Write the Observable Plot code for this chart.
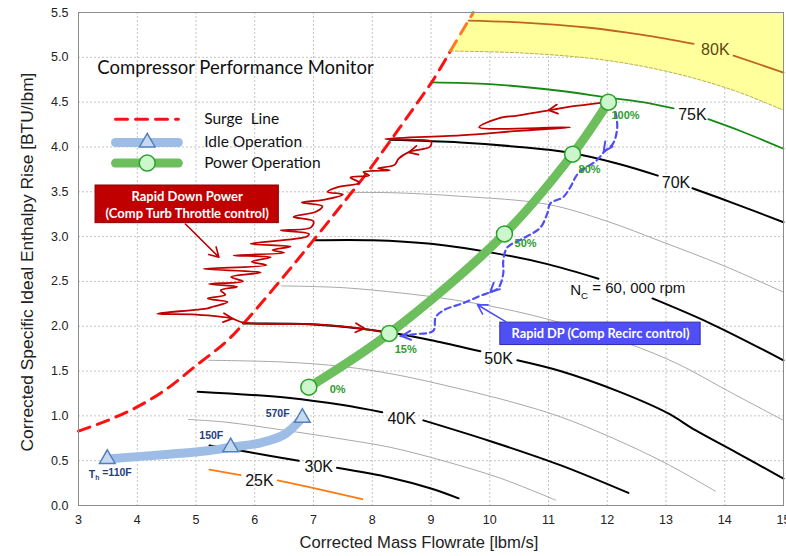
<!DOCTYPE html>
<html><head><meta charset="utf-8">
<script src="https://cdn.jsdelivr.net/npm/d3@7"></script>
<script src="https://cdn.jsdelivr.net/npm/@observablehq/plot@0.6"></script>
<style>body{margin:0;background:#fff;}#chart{width:786px;height:556px;}</style>
</head><body><div id="chart"></div>
<script>
// ---------- data ----------
const xTicks = [3,4,5,6,7,8,9,10,11,12,13,14,15];
const yTicks = [0,0.5,1,1.5,2,2.5,3,3.5,4,4.5,5,5.5];
const GAP = NaN; // break in a speed line where its label sits

const speed80K = [[9.64,5.41],[10.5,5.39],[11.7,5.33],[12.6,5.25],[13.47,5.15],[13.8,GAP],[14.15,5.02],[15,4.83]];
const speed75K = [[9.02,4.72],[10,4.70],[11.15,4.63],[12.02,4.55],[12.6,4.5],[13.13,4.43],[13.4,GAP],[13.72,4.31],[14.3,4.17],[15,3.98]];
const speed70K = [[8.3,4.08],[9.5,4.05],[10.5,4.0],[11.32,3.94],[12.2,3.81],[12.86,3.68],[13.2,GAP],[13.45,3.54],[14.2,3.36],[15,3.16]];
const speed65K = [[7.58,3.49],[8.3,3.49],[9.5,3.45],[10.98,3.36],[12,3.17],[12.9,2.95],[14,2.67],[15,2.38]];
const speed60K = [[7.02,2.96],[8,2.96],[9,2.92],[10.13,2.81],[11,2.69],[11.85,2.53],[12.3,GAP],[12.77,2.31],[13.76,2.03],[15,1.62]];
const speed55K = [[6.45,2.45],[7.5,2.43],[8.5,2.37],[9.33,2.3],[10.2,2.2],[11.09,2.06],[12.34,1.81],[13.2,1.58],[14.05,1.28],[15,0.95]];
const speed50K = [[5.8,2.03],[7,2.02],[8.3,1.93],[9.1,1.83],[9.84,1.72],[10.15,GAP],[10.47,1.62],[11.2,1.5],[12.2,1.27],[13.03,1.03],[13.5,0.84],[14.2,0.59],[15,0.3]];
const speed45K = [[5.22,1.62],[6.5,1.6],[7.5,1.55],[8.4,1.46],[9.5,1.3],[10.4,1.15],[11.2,0.99],[12.1,0.75],[13,0.47],[13.84,0.16]];
const speed40K = [[5.03,1.27],[6.6,1.2],[7.5,1.12],[8.17,1.04],[8.5,GAP],[8.87,0.95],[10,0.72],[11.2,0.45],[12.36,0.14]];
const speed35K = [[4.87,0.96],[5.5,0.93],[6.5,0.84],[7.5,0.74],[8.3,0.65],[9.2,0.5],[10.2,0.3],[11.12,0.06]];
const speed30K = [[5.23,0.67],[5.6,0.63],[6.2,0.56],[6.75,0.5],[7.05,GAP],[7.4,0.42],[8.31,0.31],[9.0,0.19],[9.47,0.08]];
const speed25K = [[5.23,0.4],[5.76,0.34],[6.05,GAP],[6.39,0.28],[7.1,0.18],[7.83,0.07]];

const surgeLine = [[3,0.83],[3.5,0.95],[4,1.1],[4.5,1.3],[5,1.56],[5.5,1.82],[5.81,2.03],[6.5,2.56],[7,2.96],[7.5,3.37],[7.92,3.72],[8.31,4.07],[8.7,4.43],[9.03,4.74],[9.33,5.07]];
const surgeLineHigh = [[9.33,5.07],[9.72,5.5]];
const overspeedEdge = [[9.33,5.07],[10.5,5.05],[11.7,4.99],[12.6,4.9],[13.4,4.78],[14.2,4.62],[15,4.41]];
const overspeedTop = [[9.72,5.5],[15,5.5]];

const idleOp = [[3.49,0.52],[4.5,0.57],[5.2,0.61],[5.59,0.65],[6.1,0.7],[6.5,0.79],[6.81,0.98]];
const idlePoints = [[3.49,0.52],[5.59,0.65],[6.81,0.98]];
const idleLabels = [["T_h =110F",3.54,0.35],["150F",5.26,0.78],["570F",6.39,1.03]];

const powerOp = [[6.92,1.32],[8.29,1.92],[10.25,3.03],[11.41,3.92],[12.02,4.5]];
const powerLabels = [["0%",7.41,1.29],["15%",8.57,1.74],["50%",10.61,2.92],["80%",11.7,3.75],["100%",12.31,4.35]];

const rapidDownPower = [[12.02,4.5],[11.5,4.46],[11.1,4.42],[10.47,4.35],[10.15,4.32],[9.82,4.22],[11.37,4.22],[10.5,4.18],[9.5,4.13],[8.22,4.09],[8.7,4.08],[9.0,4.06],[8.98,4.0],[8.65,3.95],[8.45,3.87],[8.38,3.8],[8.1,3.76],[8.3,3.74],[7.85,3.72],[7.95,3.68],[7.63,3.66],[7.78,3.6],[7.4,3.55],[7.24,3.5],[7.5,3.47],[7.17,3.41],[6.8,3.38],[7.15,3.34],[7.05,3.28],[6.66,3.22],[7.0,3.17],[6.95,3.1],[6.44,3.07],[6.92,3.03],[6.89,3.0],[5.93,2.92],[6.61,2.89],[6.3,2.85],[6.5,2.82],[5.64,2.79],[6.27,2.77],[5.95,2.72],[6.2,2.68],[5.13,2.64],[6.1,2.6],[5.6,2.55],[5.8,2.5],[5.22,2.47],[5.7,2.44],[5.42,2.4],[5.5,2.35],[5.2,2.31],[5.54,2.27],[5.3,2.22],[5.2,2.2],[4.34,2.14],[5.0,2.13],[5.59,2.09],[5.81,2.04],[7.07,2.02],[7.85,1.97],[8.29,1.92]];
const rapidDownHeads = [[11.0,4.41,11.6,4.46],[8.62,3.94,8.95,3.99],[5.62,2.085,5.0,2.13],[7.87,1.975,7.2,2.01]];

const rapidDP = [[12.14,4.39],[12.17,4.22],[12.1,4.04],[11.94,3.94],[11.82,3.85],[11.5,3.7],[11.37,3.55],[11.25,3.44],[11.03,3.37],[10.98,3.26],[10.86,3.1],[10.57,2.98],[10.3,2.88],[10.23,2.73],[10.23,2.59],[10.15,2.43],[10.01,2.38],[9.84,2.34],[9.56,2.26],[9.22,2.18],[9.08,2.1],[9.04,1.95],[8.7,1.91],[8.48,1.89]];
const rapidDPHeads = [[11.94,3.95,12.1,4.1],[10.01,2.38,10.2,2.5],[8.5,1.89,8.85,1.91]];

const speedLabels = [["80K",13.84,5.08],["75K",13.45,4.36],["70K",13.17,3.6],["50K",10.15,1.64],["40K",8.5,0.97],["30K",7.09,0.435],["25K",6.08,0.27]];
const rpmLabel = [["N_C = 60, 000 rpm",11.37,2.4]];

const titleText = [["Compressor Performance Monitor",3.32,4.875]];
const legendItems = [["Surge\u00a0 Line",4.31],["Idle Operation",4.05],["Power Operation",3.82]];
const legendLineX = [3.63,4.70], legendMarkX = 4.17, legendTextX = 5.14;

const redBox = {x1:3.29,x2:6.41,y1:3.15,y2:3.57};
const redBoxText = [["Rapid Down Power",4.85,3.447],["(Comp Turb Throttle control)",4.85,3.257]];
const redArrow = [{x1:4.82,y1:3.14,x2:5.39,y2:2.77}];
const blueBox = {x1:10.18,x2:13.59,y1:1.79,y2:2.04};
const blueBoxText = [["Rapid DP (Comp Recirc control)",11.885,1.915]];
const blueArrow = [{x1:10.3,y1:2.04,x2:9.79,y2:2.24}];

const xTitle = "Corrected Mass Flowrate [lbm/s]";
const yTitle = "Corrected Specific Ideal Enthalpy Rise [BTU/lbm]";

// ---------- layout ----------
const W = 786, H = 556, mL = 78, mR = 3, mT = 12, mB = 51;
const xDom = [3,15], yDom = [0,5.5];
const kx = (W-mL-mR)/(xDom[1]-xDom[0]);
const ky = (H-mT-mB)/(yDom[1]-yDom[0]);
const P = a => a.map(([x,y]) => ({x,y}));
const heads = a => a.map(([x,y,fx,fy]) => ({x,y,r: Math.atan2((x-fx)*kx, (y-fy)*ky)*180/Math.PI}));
const vHead = {draw(ctx){ ctx.moveTo(-4.5,9); ctx.lineTo(0,0); ctx.lineTo(4.5,9); }};
const T = a => a.map(([t,x,y]) => ({t,x,y}));
const sans = "'Liberation Sans', Arial, sans-serif";
const cal = "Lato, 'Open Sans', sans-serif";

const yellowZone = P([...surgeLineHigh, ...overspeedTop.slice(1), [15,4.41], ...overspeedEdge.slice().reverse()]);

const line = (a, o) => Plot.line(P(a), {x:"x", y:"y", curve:"catmull-rom", ...o});
const legendRows = legendItems.map(([t,y]) => ({t,y}));
const legendSeg = (y) => legendLineX.map(x => ({x,y}));

const chart = Plot.plot({
  width: W, height: H, marginLeft: mL, marginRight: mR, marginTop: mT, marginBottom: mB,
  x: {domain: xDom}, y: {domain: yDom},
  style: {fontFamily: sans, fontSize: "12px", color: "#222", background: "#fff"},
  marks: [
    Plot.gridX(xTicks, {stroke:"#c4c4c4", strokeOpacity:1, strokeDasharray:"2,2"}),
    Plot.gridY(yTicks, {stroke:"#c4c4c4", strokeOpacity:1, strokeDasharray:"2,2"}),
    Plot.line(yellowZone, {x:"x", y:"y", fill:"#ffff9c", stroke:"none"}),
    line(overspeedEdge, {stroke:"#b8aa55", strokeWidth:1, strokeDasharray:"3,2"}),
    line(speed65K, {stroke:"#a8a8a8", strokeWidth:1}),
    line(speed55K, {stroke:"#a8a8a8", strokeWidth:1}),
    line(speed45K, {stroke:"#a8a8a8", strokeWidth:1}),
    line(speed35K, {stroke:"#a8a8a8", strokeWidth:1}),
    line(speed70K, {stroke:"#000", strokeWidth:2}),
    line(speed60K, {stroke:"#000", strokeWidth:2}),
    line(speed50K, {stroke:"#000", strokeWidth:2}),
    line(speed40K, {stroke:"#000", strokeWidth:2}),
    line(speed30K, {stroke:"#000", strokeWidth:2}),
    line(speed75K, {stroke:"#168a16", strokeWidth:1.8}),
    line(speed80K, {stroke:"#c0641e", strokeWidth:1.8}),
    line(speed25K, {stroke:"#ff7a10", strokeWidth:1.8}),
    line(surgeLine, {stroke:"#ff1010", strokeWidth:3, strokeDasharray:"12,8"}),
    line(surgeLineHigh, {stroke:"#ff7a20", strokeWidth:3, strokeDasharray:"12,8", curve:"linear"}),
    line(idleOp, {stroke:"#9dbde6", strokeWidth:9, strokeLinecap:"butt"}),
    line(powerOp, {stroke:"#6cbf5c", strokeWidth:9, strokeLinecap:"butt"}),
    line(rapidDownPower, {stroke:"#c00000", strokeWidth:1.8}),
    line(rapidDP, {stroke:"#4f4ff5", strokeWidth:2.2, strokeDasharray:"6,4"}),
    Plot.vector(heads(rapidDownHeads), {x:"x", y:"y", rotate:"r", shape:vHead, anchor:"start", stroke:"#c00000", strokeWidth:1.8}),
    Plot.vector(heads(rapidDPHeads), {x:"x", y:"y", rotate:"r", shape:vHead, anchor:"start", stroke:"#4f4ff5", strokeWidth:2}),
    Plot.dot(P(idlePoints), {x:"x", y:"y", symbol:"triangle", r:5.8, fill:"#c6d9f1", stroke:"#4f81bd", strokeWidth:1.5}),
    Plot.dot(P(powerOp), {x:"x", y:"y", r:8, fill:"#ccf7cc", stroke:"#2ca02c", strokeWidth:1.5}),
    Plot.text(T(powerLabels), {x:"x", y:"y", text:"t", fill:"#2e9b2e", fontWeight:"bold", fontSize:11}),
    Plot.text(T(idleLabels), {x:"x", y:"y", text:"t", fill:"#1f3f7f", fontWeight:"bold", fontSize:10.5}),
    Plot.text(T(speedLabels).filter(d => d.t !== "80K"), {x:"x", y:"y", text:"t", fill:"#111", fontSize:16}),
    Plot.text(T(speedLabels).filter(d => d.t === "80K"), {x:"x", y:"y", text:"t", fill:"#5a4a10", fontSize:16}),
    Plot.text(T(rpmLabel), {x:"x", y:"y", text:"t", textAnchor:"start", fill:"#111", fontSize:15}),
    Plot.rect([redBox], {x1:"x1", x2:"x2", y1:"y1", y2:"y2", fill:"#c00000", stroke:"#8a0000", strokeWidth:1}),
    Plot.text(T(redBoxText), {x:"x", y:"y", text:"t", fill:"#fff", fontWeight:"bold", fontSize:13, fontFamily:cal}),
    Plot.arrow(redArrow, {x1:"x1", y1:"y1", x2:"x2", y2:"y2", stroke:"#c00000", strokeWidth:1.6, headLength:10}),
    Plot.rect([blueBox], {x1:"x1", x2:"x2", y1:"y1", y2:"y2", fill:"#4f4ff5", stroke:"#2c2cb0", strokeWidth:1}),
    Plot.text(T(blueBoxText), {x:"x", y:"y", text:"t", fill:"#fff", fontWeight:"bold", fontSize:12.8, fontFamily:cal}),
    Plot.arrow(blueArrow, {x1:"x1", y1:"y1", x2:"x2", y2:"y2", stroke:"#4f4ff5", strokeWidth:1.6, headLength:10}),
    Plot.text(T(titleText), {x:"x", y:"y", text:"t", textAnchor:"start", fill:"#111", fontSize:18.5, fontFamily:cal}),
    Plot.line(legendSeg(legendRows[0].y), {x:"x", y:"y", stroke:"#ff1010", strokeWidth:3, strokeDasharray:"12,8"}),
    Plot.line(legendSeg(legendRows[1].y), {x:"x", y:"y", stroke:"#9dbde6", strokeWidth:9}),
    Plot.line(legendSeg(legendRows[2].y), {x:"x", y:"y", stroke:"#6cbf5c", strokeWidth:9}),
    Plot.dot([{x:legendMarkX, y:legendRows[1].y}], {x:"x", y:"y", symbol:"triangle", r:5.8, fill:"#c6d9f1", stroke:"#4f81bd", strokeWidth:1.5}),
    Plot.dot([{x:legendMarkX, y:legendRows[2].y}], {x:"x", y:"y", r:8, fill:"#ccf7cc", stroke:"#2ca02c", strokeWidth:1.5}),
    Plot.text(legendRows, {x:() => legendTextX, y:"y", text:"t", textAnchor:"start", fill:"#111", fontSize:15.5, fontFamily:cal}),
    Plot.frame({stroke:"#8c8c8c"}),
    Plot.axisX(xTicks, {tickSize:0, tickPadding:10, label:null, fontSize:12.5, fill:"#222"}),
    Plot.axisY(yTicks, {tickSize:0, tickPadding:10, label:null, fontSize:12.5, fill:"#222", tickFormat:d3.format(".1f")}),
    Plot.text([xTitle], {frameAnchor:"bottom", dx:-12, dy:42, textAnchor:"middle", text:d=>d, fontSize:16.6, fill:"#222"}),
    Plot.text([yTitle], {frameAnchor:"left", dx:-51, dy:3, textAnchor:"middle", rotate:-90, text:d=>d, fontSize:17.4, fill:"#222"})
  ]
});
// subscripts
d3.select(chart).selectAll("text").each(function(){
  const t = this.textContent;
  if (t === "N_C = 60, 000 rpm" || t === "T_h =110F") {
    const [a, rest] = t.split("_");
    const s = d3.select(this); s.text(null);
    s.append("tspan").text(a);
    s.append("tspan").attr("font-size","0.65em").attr("dy","0.35em").text(rest[0]);
    s.append("tspan").attr("dy","-0.35em").text(rest.slice(1));
  }
});
document.getElementById("chart").appendChild(chart);
</script>
</body></html>
